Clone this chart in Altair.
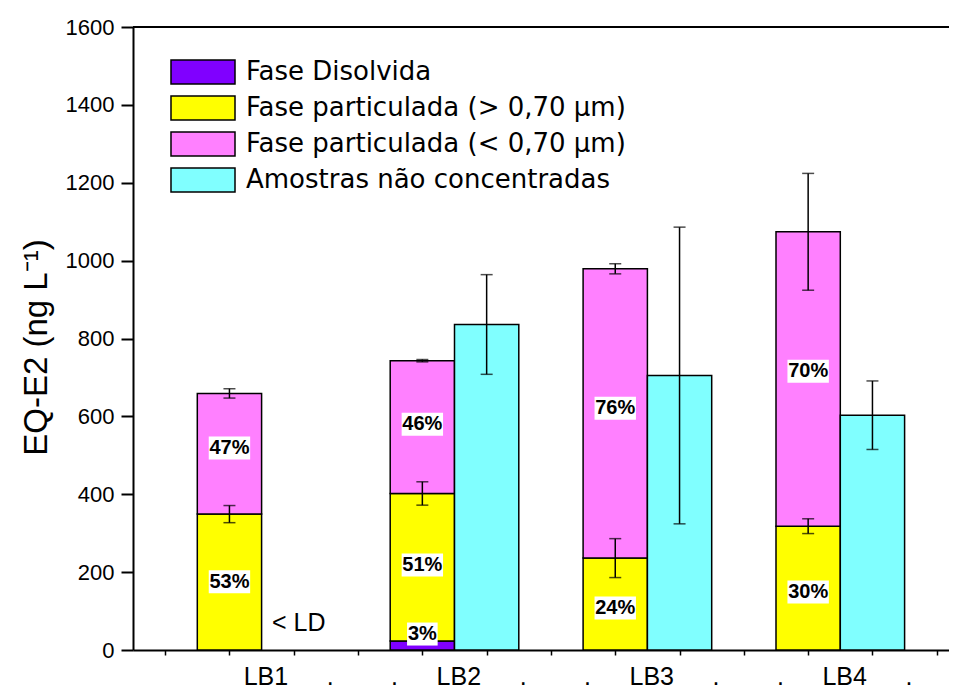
import altair as alt
import pandas as pd

# ---------------- data ----------------
groups = ["LB1", "LB2", "LB3", "LB4"]
series = [
    "Fase Disolvida",
    "Fase particulada (> 0,70 \u03bcm)",
    "Fase particulada (< 0,70 \u03bcm)",
    "Amostras n\u00e3o concentradas",
]
colors = ["#8000FF", "#FFFF00", "#FF80FF", "#80FFFF"]

# bar centre positions on the x scale (stacked bar, then non-concentrated bar)
stack_pos = [1.5, 4.5, 7.5, 10.5]
single_pos = [2.5, 5.5, 8.5, 11.5]

dissolved = [0, 23, 0, 0]          # Fase Disolvida
part_gt = [349, 379, 236, 318]     # Fase particulada (> 0,70 um)
part_lt = [310, 341, 743, 756]     # Fase particulada (< 0,70 um)
nonconc = [None, 836, 705, 603]    # Amostras nao concentradas (LB1 < LD)

err_gt = [22, 30, 50, 19]
err_lt = [12, 3, 13, 150]
err_nc = [None, 128, 381, 88]

pct_text = ["53%", "47%", "3%", "51%", "46%", "24%", "76%", "30%", "70%"]
pct_group = [0, 0, 1, 1, 1, 2, 2, 3, 3]
pct_y = [175, 519, 41, 218, 580, 108, 621, 149, 716]

ld_text = "< LD"
ld_y = 69

y_ticks = list(range(0, 1601, 100))
x_ticks = [0.5 + i for i in range(13)]

# ---------------- tables ----------------
UNIT_PX = 64.3
PLOT_W = 816
PLOT_H = 623
XMAX = PLOT_W / UNIT_PX

bar_rows = []
err_rows = []
for i, g in enumerate(groups):
    p = stack_pos[i]
    b0 = 0
    segs = [(series[0], dissolved[i]), (series[1], part_gt[i]), (series[2], part_lt[i])]
    tops = []
    for s, v in segs:
        if v and v > 0:
            bar_rows.append(dict(series=s, x=p - 0.5, x2=p + 0.5, y=b0, y2=b0 + v))
        b0 += v
        tops.append(b0)
    err_rows.append(dict(x=p, c=tops[1], e=err_gt[i]))
    err_rows.append(dict(x=p, c=tops[2], e=err_lt[i]))
    if nonconc[i] is not None:
        q = single_pos[i]
        bar_rows.append(dict(series=series[3], x=q - 0.5, x2=q + 0.5, y=0, y2=nonconc[i]))
        err_rows.append(dict(x=q, c=nonconc[i], e=err_nc[i]))

bars = pd.DataFrame(bar_rows)
errs = pd.DataFrame(err_rows)
errs["lo"] = errs["c"] - errs["e"]
errs["hi"] = errs["c"] + errs["e"]
caps = pd.concat([
    errs[["x"]].assign(v=errs["lo"]),
    errs[["x"]].assign(v=errs["hi"]),
])

lab = pd.DataFrame(dict(text=pct_text, x=[stack_pos[g] for g in pct_group], y=pct_y))
px_per_val = PLOT_H / 1600.0
lab["hw"] = lab["text"].str.len().map(lambda n: (4.5 + 5.4 * n) / UNIT_PX)
lab["x0"] = lab["x"] - lab["hw"]
lab["x1"] = lab["x"] + lab["hw"]
lab["y0"] = lab["y"] - 11.5 / px_per_val
lab["y1"] = lab["y"] + 11.5 / px_per_val

FONT = "Liberation Sans"

x_expr = " : ".join(
    f"datum.value == {stack_pos[i]} ? '{g}'" for i, g in enumerate(groups)
) + " : (datum.value > 2 && datum.value < 12) ? '.' : ''"

xscale = alt.Scale(domain=[0, XMAX], nice=False, zero=False)
yscale = alt.Scale(domain=[0, 1600], nice=False)

xaxis = alt.Axis(
    values=x_ticks, labelExpr=x_expr, labelOffset=36, labelOverlap=False,
    labelFlush=False, tickSize=5, tickWidth=1.5, tickColor="black",
    domainColor="black", domainWidth=2, labelFont=FONT, labelFontSize=25,
    labelColor="black", labelPadding=9, title=None, grid=False,
)
yaxis = alt.Axis(
    values=y_ticks, labelExpr="datum.value % 200 === 0 ? datum.label : ''",
    format="d", labelOverlap=False, labelFlush=False,
    tickSize={"condition": {"test": "datum.value % 200 === 0", "value": 12}, "value": 7},
    tickWidth=2, tickColor="black", domainColor="black", domainWidth=2,
    labelFont=FONT, labelFontSize=22, labelColor="black", labelPadding=7,
    title="EQ-E2 (ng L\u207b\u00b9)", titleFont=FONT, titleFontSize=33,
    titleFontWeight="normal", titleColor="black", titlePadding=12, titleY=320,
    grid=False,
)

legend = alt.Legend(
    title=None, orient="none", legendX=57, legendY=32, padding=0,
    symbolType="M-2.667,-1L2.667,-1L2.667,1L-2.667,1Z", symbolSize=576,
    symbolStrokeColor="black", symbolStrokeWidth=1.5, symbolOpacity=1,
    labelFont="DejaVu Sans", labelFontSize=26, labelColor="black", labelOffset=30,
    rowPadding=6, labelLimit=700,
)

bar_layer = alt.Chart(bars).mark_rect(stroke="black", strokeWidth=1.5).encode(
    x=alt.X("x:Q", scale=xscale, axis=xaxis),
    x2="x2:Q",
    y=alt.Y("y:Q", scale=yscale, axis=yaxis),
    y2="y2:Q",
    color=alt.Color("series:N", scale=alt.Scale(domain=series, range=colors), legend=legend),
)

rule_layer = alt.Chart(errs).mark_rule(color="black", strokeWidth=1.5).encode(
    x="x:Q", y="lo:Q", y2="hi:Q"
)
cap_layer = alt.Chart(caps).mark_tick(
    color="black", orient="horizontal", size=12, thickness=1.5
).encode(x="x:Q", y="v:Q")

box_layer = alt.Chart(lab).mark_rect(color="white").encode(
    x="x0:Q", x2="x1:Q", y="y0:Q", y2="y1:Q"
)
text_layer = alt.Chart(lab).mark_text(
    font=FONT, fontSize=20, fontWeight="bold", color="black",
    align="center", baseline="middle",
).encode(x="x:Q", y="y:Q", text="text:N")

ld_layer = alt.Chart(pd.DataFrame(dict(x=[single_pos[0]], y=[ld_y], t=[ld_text]))).mark_text(
    font=FONT, fontSize=25, color="black", align="center", baseline="middle", dx=5
).encode(x="x:Q", y="y:Q", text="t:N")

top_layer = alt.Chart(pd.DataFrame(dict(y=[1600]))).mark_rule(color="black", strokeWidth=2).encode(
    y="y:Q"
)

chart = alt.layer(
    bar_layer, rule_layer, cap_layer, box_layer, text_layer, ld_layer, top_layer
).properties(
    width=PLOT_W, height=PLOT_H,
    autosize=alt.AutoSizeParams(type="none"),
    padding={"left": 125, "top": 19, "right": 0, "bottom": 41},
    background="white",
).configure_view(stroke=None)

chart.save("out.html", embed_options={"renderer": "svg", "actions": False})
